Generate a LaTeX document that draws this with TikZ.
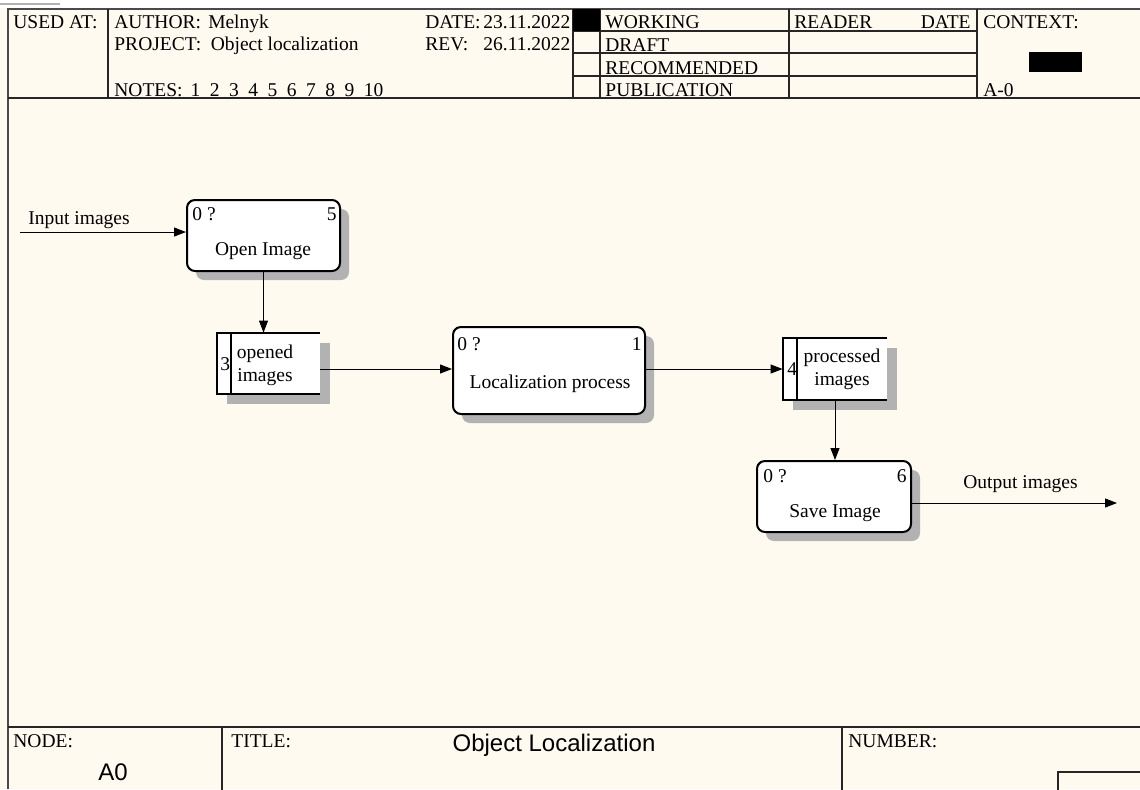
\documentclass[tikz,border=0pt]{standalone}
\usepackage{fontspec}
\setmainfont{Liberation Serif}
\setsansfont{Liberation Sans}
\usetikzlibrary{arrows.meta,shadows}
\definecolor{paper}{HTML}{FFFAF0}
\definecolor{shade}{HTML}{B2B2B2}
\definecolor{framec}{HTML}{4A4A4A}
\newcommand{\nsep}{\hspace{4.75pt}}
\begin{document}
\begin{tikzpicture}[x=0.5pt,y=-0.5pt,
  tx/.style={font=\fontsize{9.75}{11.5}\selectfont, inner sep=0pt, anchor=base west},
  txr/.style={tx, anchor=base east},
  txc/.style={tx, anchor=base},
  txm/.style={font=\fontsize{9.75}{11.5}\selectfont, inner sep=0pt, align=center, anchor=center},
  sans/.style={font=\sffamily\fontsize{12}{14}\selectfont, inner sep=0pt, anchor=base},
  rule/.style={line width=0.7pt, draw=black!85},
  proc/.style={draw, line width=1pt, rounded corners=4pt, fill=white, inner sep=0pt,
     drop shadow={shadow xshift=4.5pt, shadow yshift=-4.5pt, fill=shade, opacity=1}},
  store/.style={fill=white, inner sep=0pt,
     drop shadow={shadow xshift=5pt, shadow yshift=-5pt, fill=shade, opacity=1}},
  storeline/.style={line width=1pt},
  flow/.style={line width=0.5pt, -{Triangle[length=6pt,width=4.5pt]}},
]
% page
\useasboundingbox (0,0) rectangle (1140,789);
\fill[paper] (0,0) rectangle (1140,789);
\fill[white] (0,0) rectangle (1140,8);
\draw[gray!60, line width=1pt] (0,4) -- (60,4);

% frame
\draw[framec, line width=1.1pt] (8,789) -- (8,9) -- (1141,9);
\draw[rule] (8,98) -- (1141,98);
\draw[rule] (108,9) -- (108,98);
\draw[rule] (573,9) -- (573,98);
\draw[rule] (600,9) -- (600,98);
\draw[rule] (789,9) -- (789,98);
\draw[rule] (977,9) -- (977,98);
\draw[rule] (573,31) -- (977,31);
\draw[rule] (573,53) -- (977,53);
\draw[rule] (573,76) -- (977,76);
\fill[black] (573,9) rectangle (600,31);
\fill[black] (1029,52) rectangle (1082,72);

% header texts
\node[tx] (h-used) at (13,28) {USED AT:};
\node[tx] (h-author) at (114,28) {AUTHOR:\hspace{3.6pt}Melnyk};
\node[tx] (h-project) at (114,50) {PROJECT:\hspace{4.8pt}Object localization};
\node[tx] (h-notes) at (114,96) {NOTES:\hspace{4pt}1\nsep 2\nsep 3\nsep 4\nsep 5\nsep 6\nsep 7\nsep 8\nsep 9\nsep 10};
\node[tx] (h-date) at (425,28) {DATE:};
\node[tx] (h-dateval) at (483,28) {23.11.2022};
\node[tx] (h-rev) at (425,50) {REV:};
\node[tx] (h-revval) at (483,50) {26.11.2022};
\node[tx] (h-working) at (605,28) {WORKING};
\node[tx] (h-draft) at (605,51) {DRAFT};
\node[tx] (h-rec) at (605,74) {RECOMMENDED};
\node[tx] (h-pub) at (605,96) {PUBLICATION};
\node[tx] (h-reader) at (794,28) {READER};
\node[txr] (h-rdate) at (971,28) {DATE};
\node[tx] (h-context) at (983,28) {CONTEXT:};
\node[tx] (h-a0) at (983,96) {A-0};

% footer
\draw[rule] (8,727) -- (1141,727);
\draw[rule] (222,727) -- (222,790);
\draw[rule] (842,727) -- (842,790);
\draw[rule] (1058,790) -- (1058,772) -- (1141,772);
\node[tx] (f-node) at (13,747) {NODE:};
\node[sans] (f-a0) at (113,780) {A0};
\node[tx] (f-title) at (231,747) {TITLE:};
\node[sans] (f-titleval) at (554,751) {Object Localization};
\node[tx] (f-number) at (848,747) {NUMBER:};

% processes
\node[proc, minimum width=76.5pt, minimum height=35.5pt] (open) at (263.5,235.5) {};
\node[proc, minimum width=96pt, minimum height=43.5pt] (loc) at (549,370.5) {};
\node[proc, minimum width=77pt, minimum height=35.5pt] (save) at (834,496.5) {};
\foreach \p in {open,loc,save}{
  \fill ([xshift=0.5pt,yshift=-4.2pt]\p.north west) -- ([xshift=0.6pt,yshift=-2.2pt]\p.north west)
        -- ([xshift=2.2pt,yshift=-0.6pt]\p.north west) -- ([xshift=4.2pt,yshift=-0.5pt]\p.north west)
        -- ([xshift=1.6pt,yshift=-1.6pt]\p.north west) -- cycle;
}

\node[tx] (open-id) at (192,220) {0 ?};
\node[txr] (open-no) at (337,220) {5};
\node[txc] (open-lbl) at (263,255) {Open Image};

\node[tx] (loc-id) at (457,350) {0 ?};
\node[txr] (loc-no) at (642,350) {1};
\node[txc] (loc-lbl) at (550,388) {Localization process};

\node[tx] (save-id) at (763,482) {0 ?};
\node[txr] (save-no) at (907,482) {6};
\node[txc] (save-lbl) at (835,517) {Save Image};

% stores
\node[store, minimum width=51.5pt, minimum height=30.5pt] (s3) at (268.5,363.5) {};
\draw[storeline] (s3.north east) -- (s3.north west) -- (s3.south west) -- (s3.south east);
\draw[storeline] ([xshift=7pt]s3.north west) -- ([xshift=7pt]s3.south west);
\node[tx] (s3-no) at (220,370) {3};
\node[txm] (s3-lbl) at (265,365) {opened\\images};

\node[store, minimum width=52pt, minimum height=31pt] (s4) at (835,369) {};
\draw[storeline] (s4.north east) -- (s4.north west) -- (s4.south west) -- (s4.south east);
\draw[storeline] ([xshift=7pt]s4.north west) -- ([xshift=7pt]s4.south west);
\node[tx] (s4-no) at (787,375) {4};
\node[txm] (s4-lbl) at (842,369) {processed\\images};

% connectors
\coordinate (in) at (20,232);
\coordinate (out) at (1117,503);
\draw[flow] (in) -- (in -| open.west);
\node[tx] (in-lbl) at (28,224) {Input images};
\draw[flow] (open.south) -- (open.south |- s3.north);
\draw[flow] (s3.east |- 0,369) -- (loc.west |- 0,369);
\draw[flow] (loc.east |- 0,369) -- (s4.west |- 0,369);
\draw[flow] (s4.south) -- (s4.south |- save.north);
\draw[flow] (save.east |- out) -- (out);
\node[tx] (out-lbl) at (963,488) {Output images};
\end{tikzpicture}
\end{document}
